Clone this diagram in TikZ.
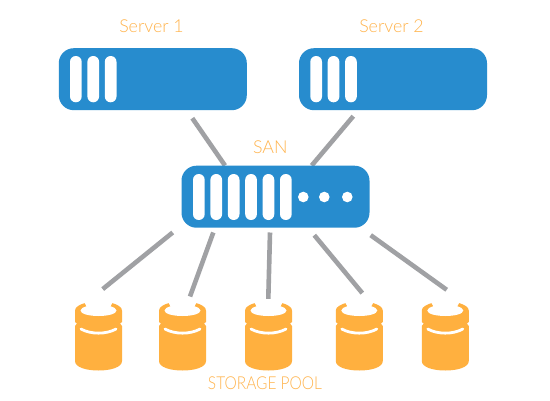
\documentclass[tikz,border=0pt]{standalone}
\usepackage{fontspec}
\setmainfont{Lato Light}
\usetikzlibrary{backgrounds}
\definecolor{boxblue}{HTML}{278CCE}
\definecolor{drumorange}{HTML}{FFB03F}
\definecolor{labelorange}{HTML}{FFB44D}
\definecolor{linkgray}{HTML}{A0A1A4}
\tikzset{
  x=1pt,y=-1pt,
  hostbox/.style={fill=boxblue,rounded corners=15pt,minimum width=188pt,minimum height=62pt,inner sep=0pt,draw=none},
  drumbox/.style={minimum width=47pt,minimum height=68pt,inner sep=0pt},
  lbl/.style={text=labelorange,font=\fontsize{17.8}{20}\selectfont,inner sep=0pt},
  link/.style={draw=linkgray,line width=4.6pt},
  slot/.style={fill=white,rounded corners=5.8pt}
}
\newcommand{\slots}[4]{% node-free x start, y top, y bottom, list of indices
  \foreach \i in {#4}{\fill[slot] ({#1+17.4*\i},#2) rectangle ({#1+11.7+17.4*\i},#3);}}
\newcommand{\drum}[1]{%
  \begin{scope}[shift={(#1.center)}]
    \fill[drumorange] (-23.5,-26.5) .. controls (-23.5,-30) and (-19,-32.5) .. (-12,-34.5)
      -- (12,-34.5) .. controls (19,-32.5) and (23.5,-30) .. (23.5,-26.5) -- (23.5,-15) -- (21.6,-13.5) -- (23.5,-11) -- (23.5,24)
      .. controls (23.5,30) and (13,33.5) .. (0,33.5)
      .. controls (-13,33.5) and (-23.5,30) .. (-23.5,24) -- (-23.5,-11) -- (-21.6,-13.5) -- (-23.5,-15) -- cycle;
    \fill[white] (-18,-26.5) .. controls (-18,-28.5) and (-15,-30) .. (-12,-30.8) -- (-15,-36) -- (15,-36) -- (12,-30.8)
      .. controls (15,-30) and (18,-28.5) .. (18,-26.5)
      .. controls (18,-23) and (9,-21) .. (0,-21) .. controls (-9,-21) and (-18,-23) .. (-18,-26.5) -- cycle;
    \draw[white,line width=2.8pt,line cap=round] (-17.5,-8) .. controls (-8,-2.5) and (8,-2.5) .. (17.5,-8);
  \end{scope}}
\begin{document}
\begin{tikzpicture}
\useasboundingbox (0,0) rectangle (550,400);
\node[lbl] (l1) at (151.5,26) {Server 1};
\node[lbl] (l2) at (391.5,26) {Server 2};
\node[lbl] (l3) at (270.3,147) {SAN};
\node[lbl] (l4) at (265,383) {\scalebox{0.87}[1]{STORAGE POOL}};
\node[hostbox] (s1) at (152.8,79.2) {};
\node[hostbox] (s2) at (393,79.2) {};
\node[hostbox] (san) at (275.5,196.7) {};
\slots{70}{56}{102.3}{0,1,2}
\slots{310.3}{56}{102.3}{0,1,2}
\slots{193}{174}{220}{0,1,2,3,4,5}
\foreach \x in {303.3,324.3,347.3} \fill[white] (\x,197) circle (5.3);
\node[drumbox] (d1) at (98.5,337) {};
\node[drumbox] (d2) at (182.5,337) {};
\node[drumbox] (d3) at (268.5,337) {};
\node[drumbox] (d4) at (359.3,337) {};
\node[drumbox] (d5) at (445.3,337) {};
\foreach \n in {d1,d2,d3,d4,d5} {\drum{\n}}
\begin{pgfonlayer}{background}
\fill[white] (0,0) rectangle (550,400);
\draw[link] ([shift={(39.5,7.8)}]s1.south) -- ([shift={(-50.5,0)}]san.north);
\draw[link] ([shift={(-39.7,5.8)}]s2.south) -- ([shift={(36.2,0)}]san.north);
\draw[link] ([shift={(-102.8,4.6)}]san.south) -- ([shift={(4.2,-13.7)}]d1.north);
\draw[link] ([shift={(-62.2,4.6)}]san.south) -- ([shift={(7.5,-6.3)}]d2.north);
\draw[link] ([shift={(-5.5,4.6)}]san.south) -- ([shift={(-0.2,-4)}]d3.north);
\draw[link] ([shift={(38.8,7.3)}]san.south) -- ([shift={(3,-9.7)}]d4.north);
\draw[link] ([shift={(95.2,7.3)}]san.south) -- ([shift={(1.4,-13)}]d5.north);
\end{pgfonlayer}
\end{tikzpicture}
\end{document}
